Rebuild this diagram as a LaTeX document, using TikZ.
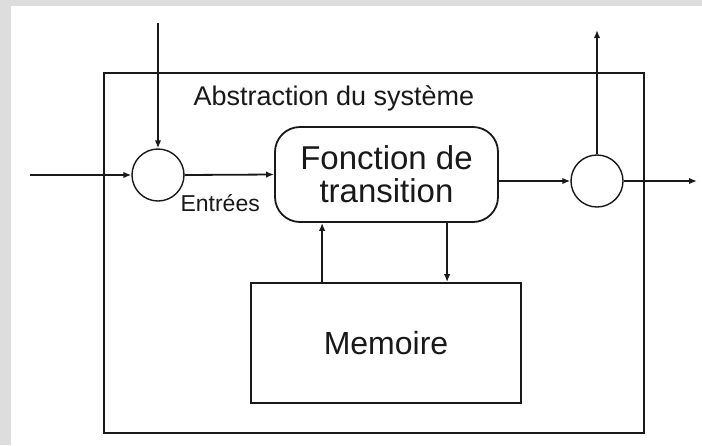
\documentclass[tikz,border=0pt]{standalone}
\usepackage{fontspec}
\setmainfont{Liberation Sans}
\usetikzlibrary{arrows.meta,calc}
\definecolor{frame}{RGB}{221,221,221}
\definecolor{ink}{RGB}{25,25,25}
\tikzset{
  conn/.style={draw=ink,line width=1.8pt,-{Latex[length=8pt,width=6.5pt]}},
  line/.style={draw=ink,line width=1.8pt},
  junction/.style={circle,draw=ink,line width=1.4pt,minimum size=52pt,inner sep=0pt},
  blockbox/.style={draw=ink,line width=1.8pt,inner sep=0pt,text=ink},
}
\begin{document}
\begin{tikzpicture}[x=1pt,y=-1pt]
  % page and frame
  \useasboundingbox (0,0) rectangle (702,445);
  \fill[frame] (0,0) rectangle (702,445);
  \fill[white] (11,6) rectangle (702,445);

  % system boundary
  \draw[line] (104,73) rectangle (644,433);
  \node[anchor=base west,text=ink,font=\fontsize{27}{27}\selectfont] (title) at (190,105) {Abstraction du système};

  % blocks
  \node[junction] (a) at (158,175) {};
  \node[junction] (r) at (597,181) {};
  \node[blockbox,rounded corners=25pt,minimum width=223pt,minimum height=95pt,align=center,
        font=\fontsize{33}{33}\selectfont] (f) at (386.5,174.5) {Fonction de\\transition};
  \node[blockbox,minimum width=270pt,minimum height=120pt,
        font=\fontsize{32}{32}\selectfont] (m) at (386,343) {Memoire};

  % free ends
  \coordinate (tin) at (158,23);
  \coordinate (lin) at (30,175);
  \coordinate (rout) at (697,181);
  \coordinate (rup) at (597,30);

  % connectors
  \draw[conn] (tin) -- (a.north);
  \draw[conn] (lin) -- (a.west);
  \draw[conn] (a.east) -- (f.west);
  \node[anchor=base west,text=ink,font=\fontsize{23}{23}\selectfont] (entrees) at (177,211) {Entrées};
  \draw[conn] (f.east |- r.west) -- (r.west);
  \draw[conn] (r.east) -- (rout);
  \draw[conn] (r.north) -- (rup);
  \draw[conn] ([xshift=72pt]m.north west) -- ([xshift=72pt]m.north west |- f.south);
  \draw[conn] ([xshift=197pt]m.north west |- f.south) -- ([xshift=197pt]m.north west);
\end{tikzpicture}
\end{document}
